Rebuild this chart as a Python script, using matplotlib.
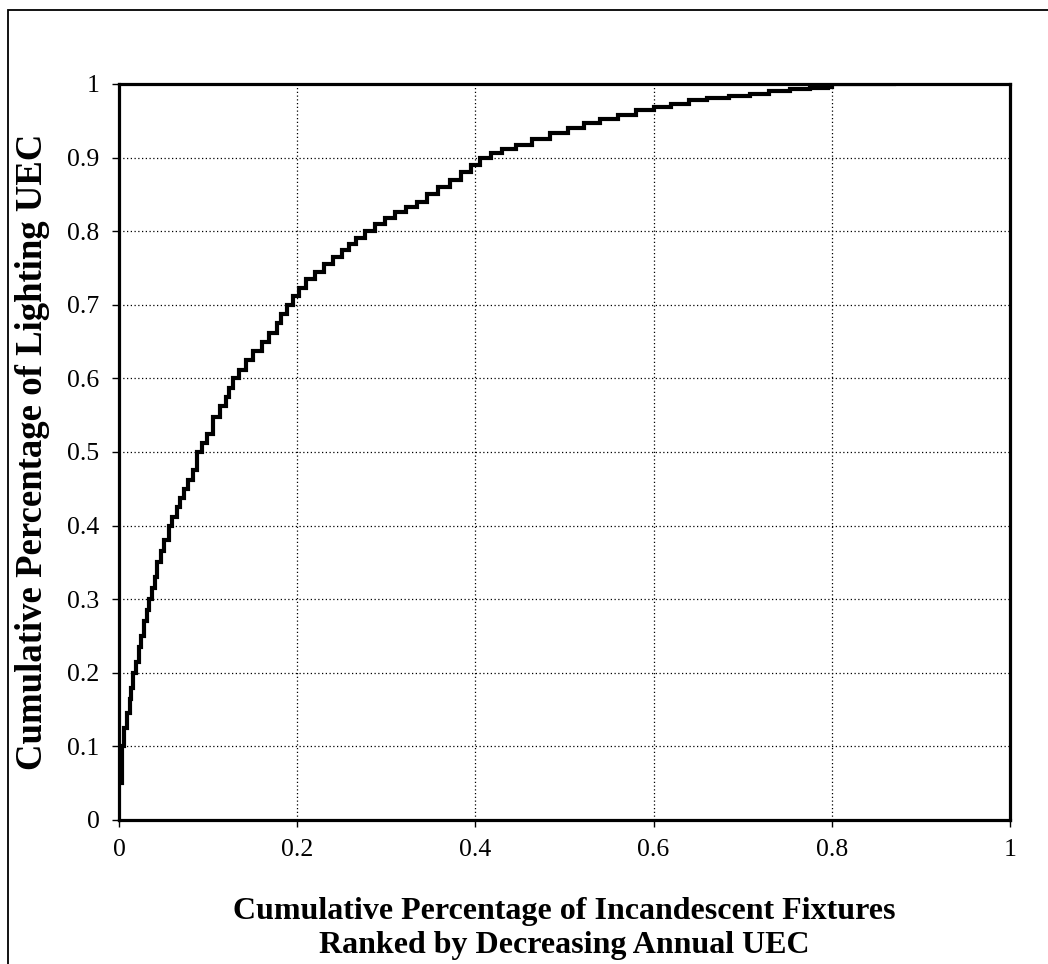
import numpy as np
import matplotlib.pyplot as plt
from matplotlib.patches import Rectangle

# cumulative share of fixtures (ranked by decreasing UEC) vs cumulative share of lighting UEC
frac_fixtures = [0.002, 0.003, 0.006, 0.009, 0.012, 0.014, 0.016, 0.019, 0.022, 0.025,
                 0.028, 0.031, 0.034, 0.037, 0.040, 0.043, 0.047, 0.051, 0.056, 0.060,
                 0.065, 0.069, 0.073, 0.078, 0.083, 0.088, 0.093, 0.099, 0.106, 0.113,
                 0.120, 0.124, 0.128, 0.135, 0.142, 0.150, 0.160, 0.168, 0.177, 0.182,
                 0.188, 0.195, 0.202, 0.210, 0.220, 0.230, 0.240, 0.250, 0.258, 0.266,
                 0.276, 0.287, 0.298, 0.310, 0.322, 0.334, 0.346, 0.358, 0.371, 0.384,
                 0.395, 0.405, 0.418, 0.430, 0.446, 0.464, 0.484, 0.504, 0.522, 0.540,
                 0.560, 0.580, 0.600, 0.620, 0.640, 0.660, 0.685, 0.708, 0.730, 0.753,
                 0.775, 0.796, 0.800, 0.870]
frac_uec = [0.050, 0.100, 0.125, 0.145, 0.165, 0.180, 0.200, 0.215, 0.235, 0.250,
            0.270, 0.285, 0.300, 0.315, 0.330, 0.350, 0.365, 0.380, 0.400, 0.412,
            0.425, 0.437, 0.450, 0.462, 0.475, 0.500, 0.512, 0.525, 0.548, 0.562,
            0.575, 0.587, 0.600, 0.612, 0.625, 0.637, 0.650, 0.662, 0.675, 0.687,
            0.700, 0.712, 0.723, 0.735, 0.745, 0.755, 0.765, 0.775, 0.782, 0.791,
            0.800, 0.810, 0.818, 0.826, 0.833, 0.840, 0.850, 0.860, 0.870, 0.880,
            0.890, 0.900, 0.906, 0.912, 0.917, 0.925, 0.933, 0.940, 0.947, 0.953,
            0.958, 0.964, 0.969, 0.973, 0.978, 0.981, 0.984, 0.987, 0.990, 0.993,
            0.995, 0.996, 1.000, 1.000]

xticks = [0, 0.2, 0.4, 0.6, 0.8, 1]
xticklabels = ["0", "0.2", "0.4", "0.6", "0.8", "1"]
yticks = [0, 0.1, 0.2, 0.3, 0.4, 0.5, 0.6, 0.7, 0.8, 0.9, 1]
yticklabels = ["0", "0.1", "0.2", "0.3", "0.4", "0.5", "0.6", "0.7", "0.8", "0.9", "1"]

plt.rcParams["font.family"] = "Liberation Serif"

W, H = 1048, 964
fig = plt.figure(figsize=(W / 100, H / 100), dpi=100)
ax = fig.add_axes([119 / W, 1 - 820 / H, (1010 - 119) / W, (820 - 84) / H])

ax.plot(frac_fixtures, frac_uec, color="black", lw=3.0, drawstyle="steps-post",
        solid_joinstyle="miter", zorder=3)

ax.set_xlim(0, 1)
ax.set_ylim(0, 1)
ax.set_xticks(xticks)
ax.set_xticklabels(xticklabels)
ax.set_yticks(yticks)
ax.set_yticklabels(yticklabels)
ax.tick_params(direction="out", length=5, width=1, labelsize=18.5, pad=9)
ax.grid(True, linestyle=(0, (1, 2)), color="black", linewidth=0.9)
for s in ax.spines.values():
    s.set_linewidth(2.3)

fig.text(564 / W, 1 - 912 / H, "Cumulative Percentage of Incandescent Fixtures",
         ha="center", va="center", fontsize=23, fontweight="bold")
fig.text(564 / W, 1 - 946 / H, "Ranked by Decreasing Annual UEC",
         ha="center", va="center", fontsize=23, fontweight="bold")
fig.text(33 / W, 1 - 452 / H, "Cumulative Percentage of Lighting UEC",
         ha="center", va="center", rotation=90, fontsize=26.5, fontweight="bold")

# scanned page frame
fig.patches.append(Rectangle((8 / W, -0.05), 1.2, 1 - 10 / H + 0.05,
                             transform=fig.transFigure, fill=False,
                             edgecolor="black", lw=1.3))

fig.savefig("out.png", dpi=100)
